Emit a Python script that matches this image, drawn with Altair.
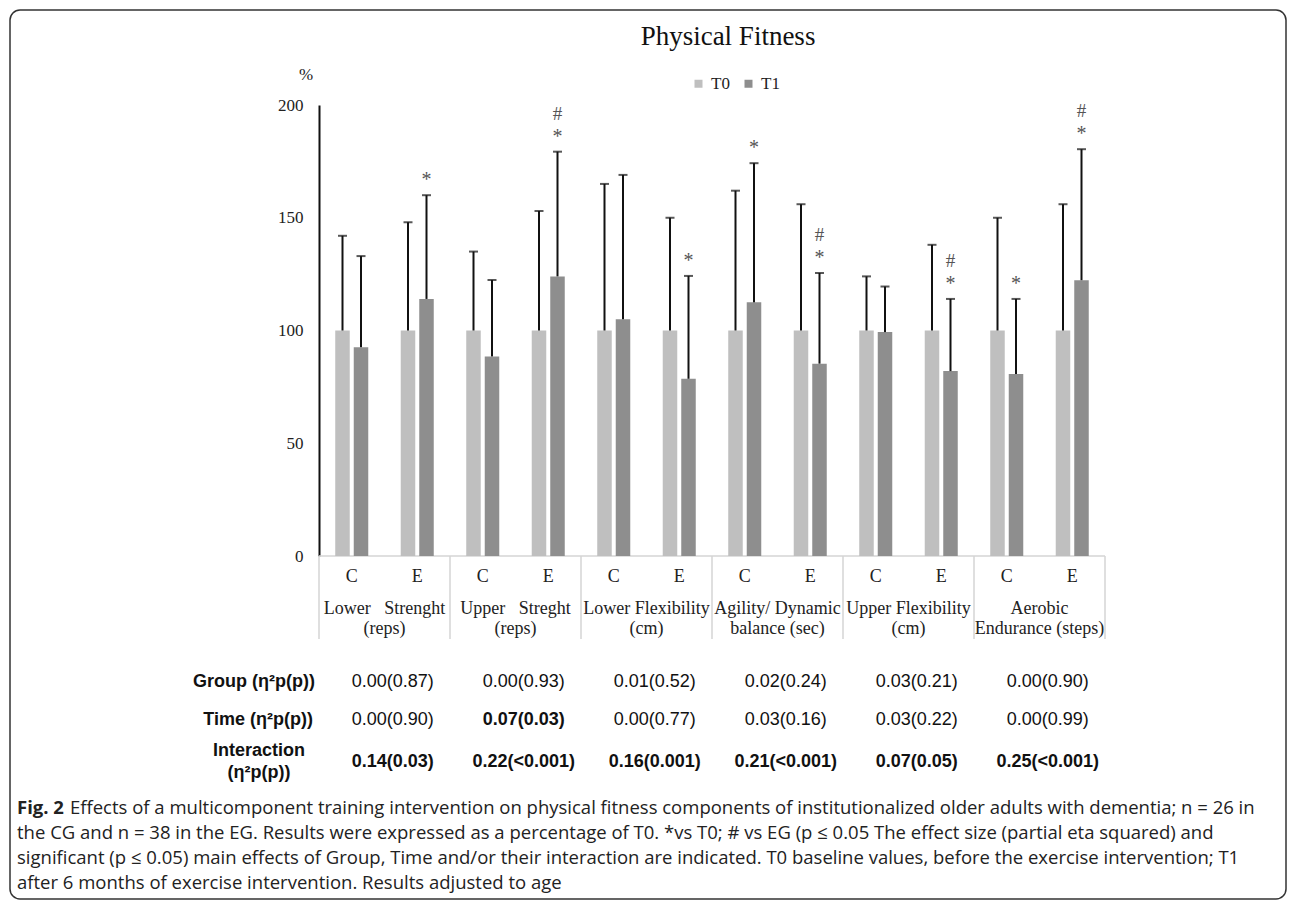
import altair as alt
import pandas as pd

# ---------------- data ----------------
groups = ["C", "E"]
cat_line1 = ["Lower\u00a0\u00a0\u00a0Strenght", "Upper\u00a0\u00a0\u00a0Streght", "Lower Flexibility",
             "Agility/ Dynamic", "Upper Flexibility", "Aerobic"]
cat_line2 = ["(reps)", "(reps)", "(cm)", "balance (sec)", "(cm)", "Endurance (steps)"]

# 12 slots: (category, group) in order C, E
t0_mean = [100, 100, 100, 100, 100, 100, 100, 100, 100, 100, 100, 100]
t0_top = [142, 148, 135, 153, 165, 150, 162, 156, 124, 138, 150, 156]
t1_mean = [92.6, 114, 88.5, 124, 105, 78.6, 112.5, 85.3, 99.3, 82, 80.7, 122.3]
t1_top = [133, 160, 122.4, 179.3, 169, 124.2, 174.2, 125.5, 119.5, 114, 114, 180.4]
star = ["", "*", "", "*", "", "*", "*", "*", "", "*", "*", "*"]
hashm = ["", "", "", "#", "", "", "", "#", "", "#", "", "#"]

group_eff = ["0.00(0.87)", "0.00(0.93)", "0.01(0.52)", "0.02(0.24)", "0.03(0.21)", "0.00(0.90)"]
time_eff = ["0.00(0.90)", "0.07(0.03)", "0.00(0.77)", "0.03(0.16)", "0.03(0.22)", "0.00(0.99)"]
time_bold = [False, True, False, False, False, False]
inter_eff = ["0.14(0.03)", "0.22(<0.001)", "0.16(0.001)", "0.21(<0.001)", "0.07(0.05)", "0.25(<0.001)"]

caption_l1a = "Fig. 2"
caption_l1b = ("Effects of a multicomponent training intervention on physical fitness components of "
               "institutionalized older adults with dementia; n = 26 in")
caption_l2 = ("the CG and n = 38 in the EG. Results were expressed as a percentage of T0. *vs T0; # vs EG "
              "(p \u2264 0.05 The effect size (partial eta squared) and")
caption_l3 = ("significant (p \u2264 0.05) main effects of Group, Time and/or their interaction are indicated. "
              "T0 baseline values, before the exercise intervention; T1")
caption_l4 = "after 6 months of exercise intervention. Results adjusted to age"

# ---------------- tables ----------------
slots = [f"{i}{g}" for i in range(6) for g in groups]
grp_of_slot = [g for i in range(6) for g in groups]
rows = []
for k, s in enumerate(slots):
    rows.append(dict(slot=s, series="T0", value=t0_mean[k], top=t0_top[k]))
    rows.append(dict(slot=s, series="T1", value=t1_mean[k], top=t1_top[k]))
bars_df = pd.DataFrame(rows)
sig_df = pd.DataFrame(dict(slot=slots, series=["T1"] * 12, top=t1_top, star=star, hashm=hashm))
slot_df = pd.DataFrame(dict(slot=slots, grp=grp_of_slot))
cslots = [f"{i}C" for i in range(6)]
cat_df = pd.DataFrame(dict(slot=cslots, l1=cat_line1, l2=cat_line2, ge=group_eff, te=time_eff,
                           tb=time_bold, ie=inter_eff))
one = pd.DataFrame({"a": [0]})

SERIF = "Liberation Serif"
SANS = "Liberation Sans"

xscale = alt.Scale(domain=slots, paddingInner=0, paddingOuter=0)
x_enc = alt.X("slot:N", sort=slots, scale=xscale, axis=None)
xo_enc = alt.XOffset("series:N", scale=alt.Scale(domain=["T0", "T1"], paddingInner=0.216, paddingOuter=0.878))
yaxis = alt.Axis(values=[0, 50, 100, 150, 200], grid=False, ticks=False, domainColor="#111", domainWidth=2,
                 labelFont=SERIF, labelFontSize=17, labelColor="#222", labelPadding=16, title=None)
yscale = alt.Scale(domain=[0, 200], nice=False)

bars = alt.Chart(bars_df).mark_bar().encode(
    x=x_enc, xOffset=xo_enc,
    y=alt.Y("value:Q", scale=yscale, axis=yaxis),
    color=alt.Color("series:N", scale=alt.Scale(domain=["T0", "T1"], range=["#bfbfbf", "#8e8e8e"]),
                    legend=alt.Legend(orient="none", legendX=371, legendY=-30, direction="horizontal",
                                      title=None, symbolType="square", symbolSize=64, symbolStrokeWidth=0,
                                      labelFont=SERIF, labelFontSize=17, labelColor="#222",
                                      columnPadding=10, labelOffset=4, padding=0)),
)
err = alt.Chart(bars_df).mark_rule(color="#111", strokeWidth=2).encode(
    x=x_enc, xOffset=xo_enc,
    y=alt.Y("value:Q", scale=yscale, axis=yaxis), y2="top:Q")
caps = alt.Chart(bars_df).mark_tick(color="#111", thickness=2, size=9).encode(
    x=x_enc, xOffset=xo_enc, y=alt.Y("top:Q", scale=yscale, axis=yaxis))
stars = alt.Chart(sig_df).mark_text(font=SERIF, fontSize=20, color="#555", dy=-15, baseline="middle").encode(
    x=x_enc, xOffset=xo_enc, y=alt.Y("top:Q", scale=yscale, axis=yaxis), text="star:N")
hashes = alt.Chart(sig_df).mark_text(font=SERIF, fontSize=19, color="#555", dy=-38, baseline="middle").encode(
    x=x_enc, xOffset=xo_enc, y=alt.Y("top:Q", scale=yscale, axis=yaxis), text="hashm:N")

GRID = "#d4d4d4"
baseline = alt.Chart(one).mark_rule(color=GRID, strokeWidth=1.5).encode(
    x=alt.value(0), x2=alt.value(786), y=alt.value(451))
seps = alt.Chart(pd.DataFrame(dict(slot=cslots))).mark_rule(color=GRID, strokeWidth=1.5).encode(
    x=alt.X("slot:N", sort=slots, scale=xscale, axis=None, bandPosition=0),
    y=alt.value(451), y2=alt.value(534))
sep_end = alt.Chart(pd.DataFrame(dict(slot=[slots[-1]]))).mark_rule(color=GRID, strokeWidth=1.5).encode(
    x=alt.X("slot:N", sort=slots, scale=xscale, axis=None, bandPosition=1),
    y=alt.value(451), y2=alt.value(534))

ce = alt.Chart(slot_df).mark_text(font=SERIF, fontSize=18, color="#222", baseline="middle").encode(
    x=x_enc, y=alt.value(472), text="grp:N")
HALF = 32.75
cl1 = alt.Chart(cat_df).mark_text(font=SERIF, fontSize=18, color="#222", baseline="middle", dx=HALF).encode(
    x=x_enc, y=alt.value(504), text="l1:N")
cl2 = alt.Chart(cat_df).mark_text(font=SERIF, fontSize=18, color="#222", baseline="middle", dx=HALF).encode(
    x=x_enc, y=alt.value(524), text="l2:N")

VDX = 41
gtext = alt.Chart(cat_df).mark_text(font=SANS, fontSize=18, color="#111", baseline="middle", dx=VDX).encode(
    x=x_enc, y=alt.value(577), text="ge:N")
ttext = alt.Chart(cat_df).transform_filter("!datum.tb").mark_text(
    font=SANS, fontSize=18, color="#111", baseline="middle", dx=VDX).encode(
    x=x_enc, y=alt.value(615), text="te:N")
ttextb = alt.Chart(cat_df).transform_filter("datum.tb").mark_text(
    font=SANS, fontSize=18, fontWeight="bold", color="#111", baseline="middle", dx=VDX).encode(
    x=x_enc, y=alt.value(615), text="te:N")
itext = alt.Chart(cat_df).mark_text(font=SANS, fontSize=18, fontWeight="bold", color="#111",
                                    baseline="middle", dx=VDX).encode(
    x=x_enc, y=alt.value(657), text="ie:N")


def label(txt, x, y, **kw):
    return alt.Chart(pd.DataFrame({"t": [txt]})).mark_text(baseline="middle", **kw).encode(
        x=alt.value(x), y=alt.value(y), text="t:N")


row_labels = [
    label("Group (\u03b7\u00b2p(p))", -4, 577, font=SANS, fontSize=18, fontWeight="bold", align="right", color="#111"),
    label("Time (\u03b7\u00b2p(p))", -6, 615, font=SANS, fontSize=18, fontWeight="bold", align="right", color="#111"),
    label("Interaction", -60, 646, font=SANS, fontSize=18, fontWeight="bold", align="center", color="#111"),
    label("(\u03b7\u00b2p(p))", -60, 668, font=SANS, fontSize=18, fontWeight="bold", align="center", color="#111"),
]

title = label("Physical Fitness", 409, -68, font=SERIF, fontSize=27, align="center", color="#111")
pct = label("%", -13, -30, font=SERIF, fontSize=17, align="center", color="#222")

CAPF = "Open Sans"
CFS = 18.5
CX = -302
caps_txt = [
    label(caption_l1a, CX, 703, font=CAPF, fontSize=CFS, fontWeight="bold", align="left", color="#222"),
    label(caption_l1b, CX + 53, 703, font=CAPF, fontSize=CFS, align="left", color="#222"),
    label(caption_l2, CX, 728, font=CAPF, fontSize=CFS, align="left", color="#222"),
    label(caption_l3, CX, 753, font=CAPF, fontSize=CFS, align="left", color="#222"),
    label(caption_l4, CX, 778, font=CAPF, fontSize=CFS, align="left", color="#222"),
]

frame = alt.Chart(one).mark_rect(filled=False, stroke="#333", strokeWidth=1.5, cornerRadius=10).encode(
    x=alt.value(-309), x2=alt.value(967), y=alt.value(-95), y2=alt.value(794))

chart = alt.layer(
    frame, baseline, seps, sep_end, bars, err, caps, stars, hashes, ce, cl1, cl2,
    gtext, ttext, ttextb, itext, *row_labels, title, pct, *caps_txt
).properties(
    width=786, height=451,
    autosize=alt.AutoSizeParams(type="none"),
    padding={"left": 311, "top": 97, "right": 183, "bottom": 344},
    background="white",
).configure_view(stroke=None)

chart.save("out.html", embed_options={"renderer": "svg", "actions": False})
